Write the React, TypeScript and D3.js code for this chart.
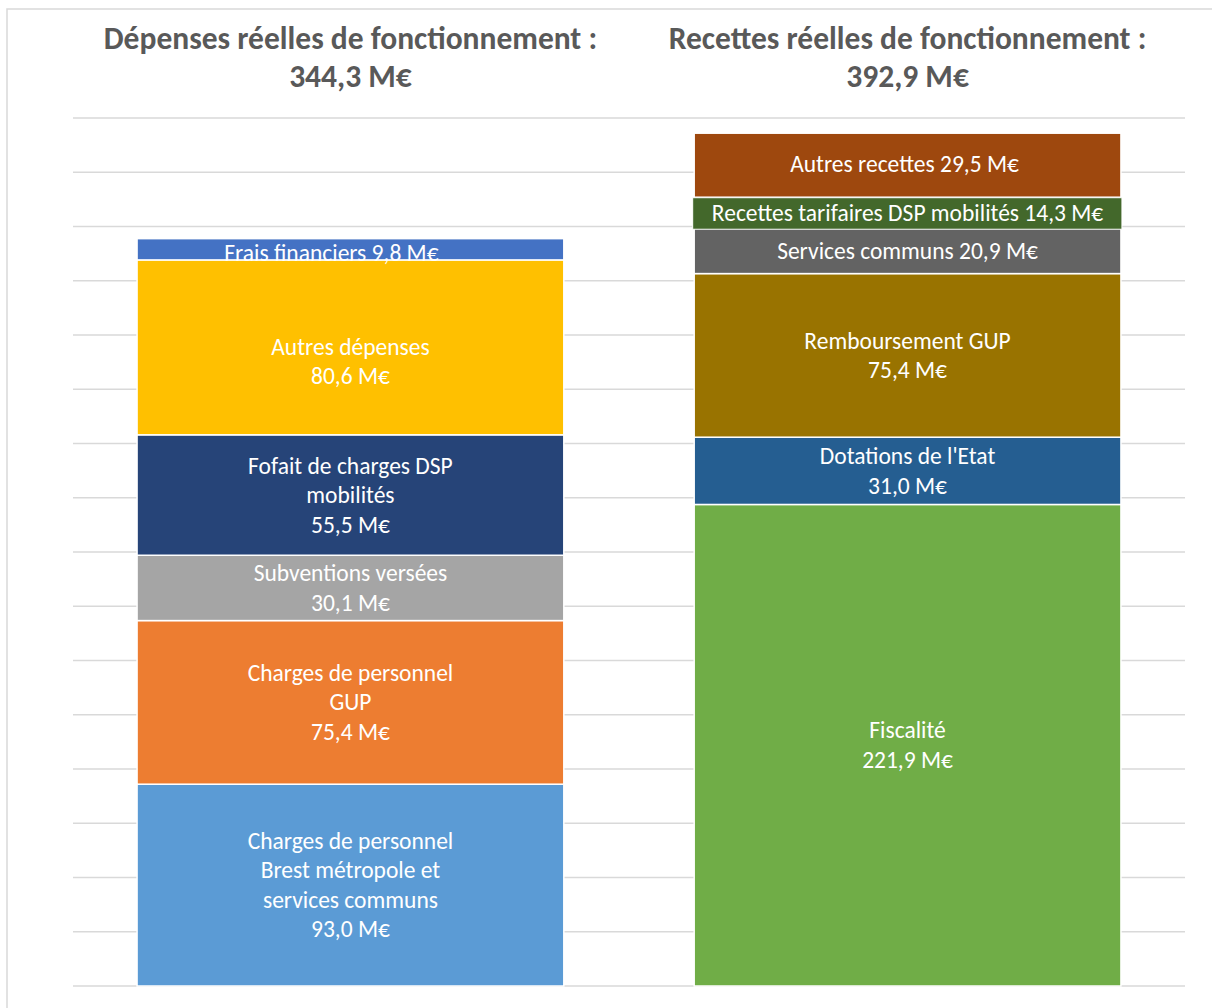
import React from "react";
import * as d3 from "d3";

const categories = ["Dépenses", "Recettes"];
const titleLines = [
  ["Dépenses réelles de fonctionnement :", "344,3 M€"],
  ["Recettes réelles de fonctionnement :", "392,9 M€"],
];

const expenseNames = [
  ["Charges de personnel", "Brest métropole et", "services communs"],
  ["Charges de personnel", "GUP"],
  ["Subventions versées"],
  ["Fofait de charges DSP", "mobilités"],
  ["Autres dépenses"],
  ["Frais financiers"],
];
const expenseValues = [93.0, 75.4, 30.1, 55.5, 80.6, 9.8];
const expenseColors = ["#5b9bd5", "#ed7d31", "#a5a5a5", "#264478", "#ffc000", "#4472c4"];
const expenseInline = [false, false, false, false, false, true];

const revenueNames = [
  ["Fiscalité"],
  ["Dotations de l'Etat"],
  ["Remboursement GUP"],
  ["Services communs"],
  ["Recettes tarifaires DSP mobilités"],
  ["Autres recettes"],
];
const revenueValues = [221.9, 31.0, 75.4, 20.9, 14.3, 29.5];
const revenueColors = ["#70ad47", "#255e91", "#997300", "#636363", "#43682b", "#9e480e"];
const revenueInline = [false, false, false, true, true, true];
const revenueBoxed = [false, false, false, false, true, false];

const yTicks = d3.range(0, 401, 25);

const W = 1212;
const H = 1008;
const FONT = "Calibri, Carlito, Lato, 'Open Sans', sans-serif";

const fmt = (v: number) => d3.format(".1f")(v).replace(".", ",") + " M€";

export default function App() {
  const x = d3
    .scaleBand<string>()
    .domain(categories)
    .range([73, 1185])
    .paddingInner(0.234)
    .paddingOuter(0.115);
  const y = d3.scaleLinear().domain([0, 400]).range([986, 118]);

  const series = [
    {
      names: expenseNames,
      values: expenseValues,
      colors: expenseColors,
      inline: expenseInline,
      boxed: expenseValues.map(() => false),
      nudgeY: [0, 0, 0, 0, 14, 3.5],
      nudgeX: [0, 0, 0, 0, 0, -19],
    },
    {
      names: revenueNames,
      values: revenueValues,
      colors: revenueColors,
      inline: revenueInline,
      boxed: revenueBoxed,
      nudgeY: [0, 0, 0, 0, 0, -1.5],
      nudgeX: [0, 0, 0, 0, 0, -3],
    },
  ];

  const lineH = 29.5;
  const fs = 23.5;

  return (
    <svg
      width={W}
      height={H}
      style={{ position: "absolute", left: 0, top: 0, background: "#fff" }}
      fontFamily={FONT}
    >
      <rect x={7} y={9} width={W} height={H} fill="#fff" stroke="#d9d9d9" strokeWidth={1.5} />
      {yTicks.map((t) => (
        <line key={t} x1={73} x2={1185} y1={y(t)} y2={y(t)} stroke="#d9d9d9" strokeWidth={1.5} />
      ))}
      {categories.map((c, ci) => {
        const s = series[ci];
        const stack = d3.cumsum(s.values);
        const bx = x(c)!;
        const bw = x.bandwidth();
        return (
          <g key={c}>
            {s.values.map((v, i) => {
              const y0 = y(stack[i] - v);
              const y1 = y(stack[i]);
              return (
                <rect key={i} x={bx} y={y1} width={bw} height={y0 - y1} fill={s.colors[i]} stroke="#fff" strokeWidth={1.5} />
              );
            })}
          </g>
        );
      })}
      {categories.map((c, ci) => {
        const s = series[ci];
        const stack = d3.cumsum(s.values);
        const bx = x(c)!;
        const bw = x.bandwidth();
        const cx = bx + bw / 2;
        return (
          <g key={c + "-labels"}>
            {s.values.map((v, i) => {
              const y0 = y(stack[i] - v);
              const y1 = y(stack[i]);
              const mid = (y0 + y1) / 2 + s.nudgeY[i];
              const lines = s.inline[i]
                ? [s.names[i].join(" ") + " " + fmt(v)]
                : [...s.names[i], fmt(v)];
              const startY = mid - ((lines.length - 1) * lineH) / 2;
              return (
                <g key={i}>
                  {s.boxed[i] && (
                    <rect x={bx - 1.5} y={y1 + 0.5} width={bw + 2.5} height={y0 - y1 + 0.5} fill={s.colors[i]} stroke="#fff" strokeWidth={1} />
                  )}
                  {lines.map((ln, li) => (
                    <text
                      key={li}
                      x={cx + s.nudgeX[i]}
                      y={startY + li * lineH}
                      textAnchor="middle"
                      dominantBaseline="central"
                      fill="#fff"
                      fontSize={fs}
                    >
                      {ln}
                    </text>
                  ))}
                </g>
              );
            })}
          </g>
        );
      })}
      {categories.map((c, ci) => {
        const cx = x(c)! + x.bandwidth() / 2;
        return (
          <g key={c + "-title"}>
            {titleLines[ci].map((t, li) => (
              <text
                key={li}
                x={cx}
                y={37.5 + li * 38.5}
                textAnchor="middle"
                dominantBaseline="central"
                fill="#595959"
                fontSize={31.5}
                fontWeight="bold"
              >
                {t}
              </text>
            ))}
          </g>
        );
      })}
    </svg>
  );
}
